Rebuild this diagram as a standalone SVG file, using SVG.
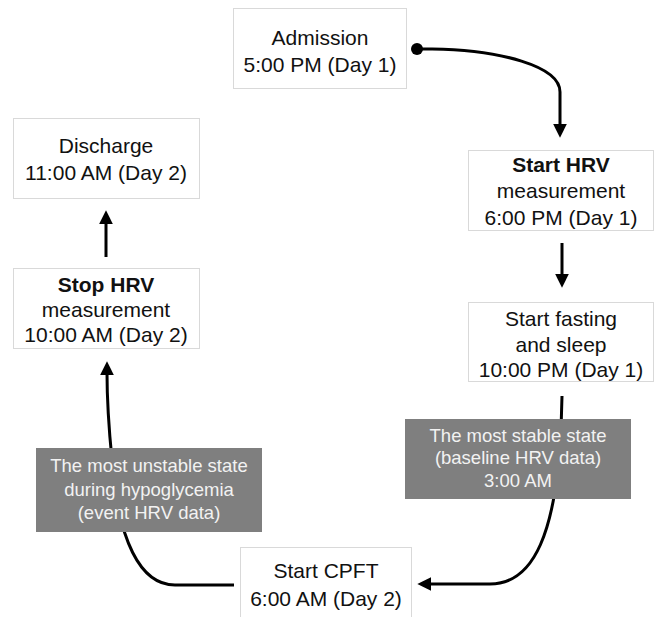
<svg xmlns="http://www.w3.org/2000/svg" width="658" height="617" viewBox="0 0 658 617">
<style>
.box{fill:#ffffff;stroke:#d9d9d9;stroke-width:1}
.t{font-family:"Liberation Sans",Arial,sans-serif;font-size:21px;fill:#111111;text-anchor:middle}
.b{font-weight:bold}
.g{fill:#7f7f7f}
.gt{font-family:"Liberation Sans",Arial,sans-serif;font-size:18.5px;fill:#f2f2f2;text-anchor:middle}
.c{fill:none;stroke:#000000;stroke-width:3}
</style>
<defs>
<marker id="ah" markerUnits="userSpaceOnUse" markerWidth="14" markerHeight="14" viewBox="0 0 12 12" refX="2" refY="6" orient="auto">
<path d="M0,0 L12,6 L0,12 Z" fill="#000"/>
</marker>
</defs>
<rect x="0" y="0" width="658" height="617" fill="#ffffff"/>
<g id="connectors">
<circle cx="417" cy="49" r="6" fill="#000"/>
<path class="c" d="M417,49 L432,49 C500,50 560,66 560,92 L560,126" marker-end="url(#ah)"/>
<path class="c" d="M562,243 L562,276" marker-end="url(#ah)"/>
<path class="c" d="M562,396 L561,430 C556,530 535,584 490,584 L429,584" marker-end="url(#ah)"/>
<path class="c" d="M234,585 L175,585 C140,585 118,540 112,460 C108,420 107,400 107,373" marker-end="url(#ah)"/>
<path class="c" d="M106,257 L106,222" marker-end="url(#ah)"/>
</g>
<g id="admission">
<rect class="box" x="233.5" y="8.5" width="173" height="80"/>
<text class="t" x="320" y="45">Admission</text>
<text class="t" x="320" y="72">5:00 PM (Day 1)</text>
</g>
<g id="start-hrv">
<rect class="box" x="468.5" y="150.5" width="185" height="80"/>
<text class="t b" x="561" y="172">Start HRV</text>
<text class="t" x="561" y="198">measurement</text>
<text class="t" x="561" y="225">6:00 PM (Day 1)</text>
</g>
<g id="fasting">
<rect class="box" x="468.5" y="302.5" width="185" height="79"/>
<text class="t" x="561" y="326">Start fasting</text>
<text class="t" x="561" y="352">and sleep</text>
<text class="t" x="561" y="377">10:00 PM (Day 1)</text>
</g>
<g id="stable">
<rect class="g" x="405" y="419" width="226" height="80"/>
<text class="gt" x="518" y="442">The most stable state</text>
<text class="gt" x="518" y="464">(baseline HRV data)</text>
<text class="gt" x="518" y="487">3:00 AM</text>
</g>
<g id="cpft">
<rect class="box" x="240.5" y="547.5" width="171" height="80"/>
<text class="t" x="326" y="578">Start CPFT</text>
<text class="t" x="326" y="606">6:00 AM (Day 2)</text>
</g>
<g id="unstable">
<rect class="g" x="36" y="448" width="226" height="84"/>
<text class="gt" x="149" y="472">The most unstable state</text>
<text class="gt" x="149" y="496">during hypoglycemia</text>
<text class="gt" x="149" y="519">(event HRV data)</text>
</g>
<g id="stop-hrv">
<rect class="box" x="13.5" y="268.5" width="186" height="80"/>
<text class="t b" x="106" y="292">Stop HRV</text>
<text class="t" x="106" y="317">measurement</text>
<text class="t" x="106" y="342">10:00 AM (Day 2)</text>
</g>
<g id="discharge">
<rect class="box" x="13.5" y="118.5" width="186" height="80"/>
<text class="t" x="106" y="153">Discharge</text>
<text class="t" x="106" y="180">11:00 AM (Day 2)</text>
</g>
</svg>
